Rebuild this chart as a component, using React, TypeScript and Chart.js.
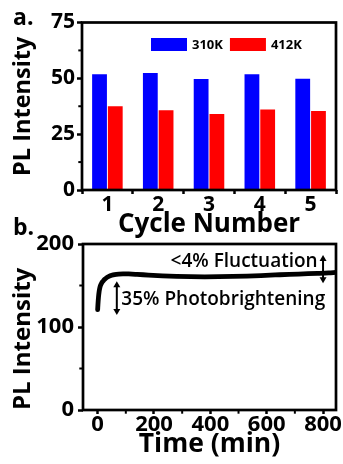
import React, { useEffect, useRef } from 'react';
import { Chart, registerables } from 'chart.js';

Chart.register(...registerables);

const FONT = "'Open Sans', 'Noto Sans', sans-serif";

// ---- Panel a: PL intensity per cycle ----
const cycles = ['1', '2', '3', '4', '5'];
const seriesNames = ['310K', '412K'];
const pl310 = [51.8, 52.4, 49.7, 51.8, 49.8];
const pl412 = [37.5, 35.7, 34.0, 36.0, 35.4];
const barYMajorStep = 25;
const barYMinorTicks = [12.5, 37.5, 62.5];

// ---- Panel b: PL intensity vs time ----
const timeMin = [0, 1, 3, 5, 7, 10, 15, 20, 25, 32, 40, 50, 60, 75, 90, 110, 140, 180, 230, 280, 330, 380, 430, 480, 530, 580, 630, 680, 730, 780, 820, 845];
const plTime = [121, 127, 136, 142, 146, 150, 153.5, 155.5, 157.5, 159.5, 161, 162.3, 163.2, 163.8, 164, 163.9, 163.4, 162.6, 161.7, 161, 160.6, 160.5, 160.6, 160.9, 161.4, 162, 162.7, 163.4, 164, 164.6, 165.2, 165.8];
const timeMajorStep = 200;
const timeMinorTicks = [100, 300, 500, 700];
const plMajorStep = 100;
const plMinorTicks = [50, 150];
const noteBrightening = '35% Photobrightening';
const noteFluctuation = '<4% Fluctuation';

const framePlugin = {
  id: 'frame',
  afterDraw(chart: any, _a: any, opts: any) {
    const { ctx, chartArea: a, scales } = chart;
    ctx.save();
    ctx.strokeStyle = '#000';
    ctx.lineWidth = 2.7;
    ctx.strokeRect(a.left, a.top, a.right - a.left, a.bottom - a.top);
    ctx.lineWidth = 2;
    const len = 2.5;
    (opts.yMinor || []).forEach((v: number) => {
      const py = scales.y.getPixelForValue(v);
      ctx.beginPath();
      ctx.moveTo(a.left, py);
      ctx.lineTo(a.left - len - 1.2, py);
      ctx.stroke();
    });
    (opts.xMinor || []).forEach((v: number) => {
      const px = scales.x.getPixelForValue(v);
      ctx.beginPath();
      ctx.moveTo(px, a.bottom);
      ctx.lineTo(px, a.bottom + len + 1.2);
      ctx.stroke();
    });
    if (opts.label) {
      ctx.fillStyle = '#000';
      ctx.font = `bold 23px ${FONT}`;
      ctx.textAlign = 'left';
      ctx.textBaseline = 'alphabetic';
      ctx.fillText(opts.label, opts.labelX, opts.labelY);
    }
    ctx.restore();
  },
};

const insideLegendPlugin = {
  id: 'insideLegend',
  afterDatasetsDraw(chart: any) {
    const { ctx, chartArea: a } = chart;
    let x = a.left + 69;
    const y0 = a.top + 15.5;
    ctx.save();
    ctx.font = `bold 13px ${FONT}`;
    ctx.textBaseline = 'middle';
    ctx.textAlign = 'left';
    chart.data.datasets.forEach((ds: any) => {
      ctx.fillStyle = ds.backgroundColor;
      ctx.fillRect(x, y0, 36, 13);
      x += 41;
      ctx.fillStyle = '#000';
      ctx.fillText(ds.label, x, y0 + 7);
      x += ctx.measureText(ds.label).width + 7;
    });
    ctx.restore();
  },
};

const annotationPlugin = {
  id: 'annot',
  afterDatasetsDraw(chart: any) {
    const { ctx, scales } = chart;
    const xs = scales.x;
    const ys = scales.y;
    const arrow = (t: number, v1: number, v2: number) => {
      const px = xs.getPixelForValue(t);
      const top = ys.getPixelForValue(v1);
      const bot = ys.getPixelForValue(v2);
      const hw = 3.5;
      const hh = 6;
      ctx.beginPath();
      ctx.moveTo(px, top + hh - 1);
      ctx.lineTo(px, bot - hh + 1);
      ctx.stroke();
      ctx.beginPath();
      ctx.moveTo(px, top);
      ctx.lineTo(px - hw, top + hh);
      ctx.lineTo(px + hw, top + hh);
      ctx.closePath();
      ctx.fill();
      ctx.beginPath();
      ctx.moveTo(px, bot);
      ctx.lineTo(px - hw, bot - hh);
      ctx.lineTo(px + hw, bot - hh);
      ctx.closePath();
      ctx.fill();
    };
    ctx.save();
    ctx.strokeStyle = '#000';
    ctx.fillStyle = '#000';
    ctx.lineWidth = 2;
    arrow(68, 155, 114.5);
    arrow(800, 186.7, 152.6);
    ctx.font = `600 19px ${FONT}`;
    ctx.textBaseline = 'alphabetic';
    ctx.textAlign = 'left';
    ctx.fillText(noteBrightening, xs.getPixelForValue(84), ys.getPixelForValue(126.5));
    ctx.textAlign = 'right';
    ctx.fillText(noteFluctuation, xs.getPixelForValue(781), ys.getPixelForValue(172.3));
    ctx.restore();
  },
};

const tickGrid = (len: number) => ({
  display: true,
  drawOnChartArea: false,
  drawTicks: true,
  tickLength: len,
  tickWidth: 2.5,
  tickColor: '#000',
});

export default function App() {
  const topRef = useRef<HTMLCanvasElement>(null);
  const botRef = useRef<HTMLCanvasElement>(null);

  useEffect(() => {
    const top = new Chart(topRef.current as HTMLCanvasElement, {
      type: 'bar',
      data: {
        labels: cycles,
        datasets: [
          { label: seriesNames[0], data: pl310, backgroundColor: '#0000ff', categoryPercentage: 0.62, barPercentage: 0.94 },
          { label: seriesNames[1], data: pl412, backgroundColor: '#ff0000', categoryPercentage: 0.62, barPercentage: 0.94 },
        ],
      } as any,
      options: {
        animation: false,
        responsive: false,
        devicePixelRatio: 1,
        layout: { padding: { left: 0, right: 7, top: 22.5, bottom: 0 } },
        plugins: {
          legend: { display: false },
          tooltip: { enabled: false },
          frame: { yMinor: barYMinorTicks, label: 'a.', labelX: 13, labelY: 25 },
        } as any,
        scales: {
          x: {
            grid: { ...tickGrid(4), offset: true },
            border: { display: false },
            ticks: { color: '#000', padding: 1, font: { family: FONT, size: 21, weight: 'bold', lineHeight: 1 } },
            title: { display: true, text: 'Cycle Number', color: '#000', padding: { top: 0, bottom: 10 }, font: { family: FONT, size: 26, weight: 'bold' } },
            afterFit: (s: any) => { s.height = 60; },
          },
          y: {
            min: 0,
            max: 75,
            grid: tickGrid(5),
            border: { display: false },
            ticks: { stepSize: barYMajorStep, color: '#000', padding: 2, font: { family: FONT, size: 21, weight: 'bold' } },
            title: { display: true, text: 'PL Intensity', color: '#000', padding: { top: 9, bottom: 0 }, font: { family: FONT, size: 23.5, weight: 'bold' } },
            afterFit: (s: any) => { s.width = 82; },
          },
        },
      } as any,
      plugins: [framePlugin, insideLegendPlugin],
    });

    const bottom = new Chart(botRef.current as HTMLCanvasElement, {
      type: 'line',
      data: {
        datasets: [
          {
            label: 'PL',
            data: timeMin.map((t, i) => ({ x: t, y: plTime[i] })),
            borderColor: '#000',
            borderWidth: 4.8,
            borderCapStyle: 'round',
            pointRadius: 0,
            cubicInterpolationMode: 'monotone',
            fill: false,
          },
        ],
      } as any,
      options: {
        animation: false,
        responsive: false,
        devicePixelRatio: 1,
        layout: { padding: { left: 0, right: 7, top: 29, bottom: 0 } },
        plugins: {
          legend: { display: false },
          tooltip: { enabled: false },
          frame: { yMinor: plMinorTicks, xMinor: timeMinorTicks, label: 'b.', labelX: 13, labelY: 20 },
        } as any,
        scales: {
          x: {
            type: 'linear',
            min: -52,
            max: 846,
            grid: tickGrid(4),
            border: { display: false },
            ticks: { stepSize: timeMajorStep, includeBounds: false, color: '#000', padding: 0, font: { family: FONT, size: 22, weight: 'bold', lineHeight: 1 } },
            title: { display: true, text: 'Time (min)', color: '#000', padding: { top: 0, bottom: 4 }, font: { family: FONT, size: 26.5, weight: 'bold' } },
            afterFit: (s: any) => { s.height = 54; },
          },
          y: {
            type: 'linear',
            min: 0,
            max: 200,
            grid: tickGrid(5),
            border: { display: false },
            ticks: { stepSize: plMajorStep, color: '#000', padding: 4, font: { family: FONT, size: 22, weight: 'bold' } },
            title: { display: true, text: 'PL Intensity', align: 'start', color: '#000', padding: { top: 9, bottom: 0 }, font: { family: FONT, size: 24, weight: 'bold' } },
            afterFit: (s: any) => { s.width = 83; },
          },
        },
      } as any,
      plugins: [framePlugin, annotationPlugin],
    });

    return () => {
      top.destroy();
      bottom.destroy();
    };
  }, []);

  return (
    <div style={{ position: 'fixed', left: 0, top: 0, width: 343, height: 464, background: '#fff', overflow: 'hidden' }}>
      <canvas ref={topRef} width={343} height={250} style={{ position: 'absolute', left: 0, top: 0, width: 343, height: 250 }} />
      <canvas ref={botRef} width={343} height={249} style={{ position: 'absolute', left: 0, top: 215, width: 343, height: 249 }} />
    </div>
  );
}
